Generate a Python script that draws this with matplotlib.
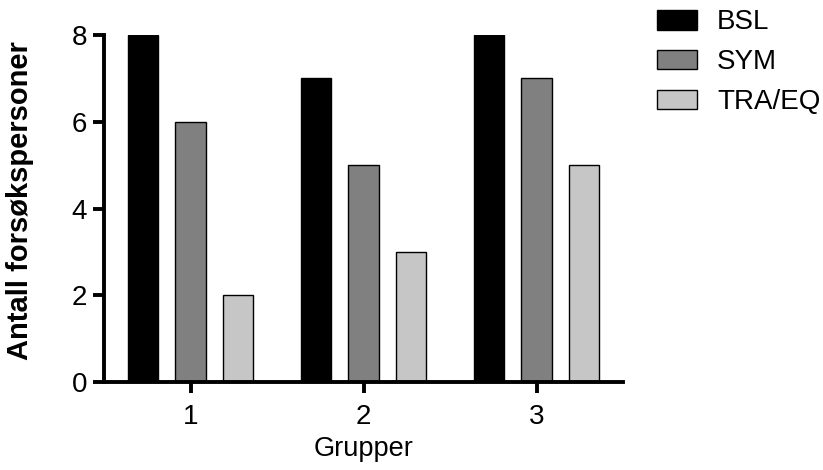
import numpy as np
import matplotlib
matplotlib.use('Agg')
import matplotlib.pyplot as plt

plt.rcParams['font.family'] = ['Liberation Sans', 'DejaVu Sans']

groups = [1, 2, 3]
series = ['BSL', 'SYM', 'TRA/EQ']
bsl = [8, 7, 8]
sym = [6, 5, 7]
tra = [2, 3, 5]
colors = ['#000000', '#808080', '#c6c6c6']

fig = plt.figure(figsize=(8.23, 4.70), dpi=100)
ax = fig.add_axes([0.1264, 0.1872, 0.6306, 0.7383])

x = np.array(groups, dtype=float)
offs = [-0.274, 0.0, 0.274]
w = 0.176
for vals, off, c, lab in zip([bsl, sym, tra], offs, colors, series):
    ax.bar(x + off, vals, width=w, color=c, edgecolor='black', linewidth=1.0,
           label=lab, zorder=2)

ax.set_xlim(0.5, 3.5)
ax.set_ylim(0, 8)
ax.set_xticks(groups)
ax.set_yticks([0, 2, 4, 6, 8])
for s in ['top', 'right']:
    ax.spines[s].set_visible(False)
for s in ['left', 'bottom']:
    ax.spines[s].set_linewidth(2.8)
ax.spines['left'].set_capstyle('projecting')
ax.tick_params(axis='both', width=2.8, length=8, labelsize=20)
ax.tick_params(axis='y', pad=4)
ax.tick_params(axis='x', pad=7.5)

ax.set_xlabel('Grupper', fontsize=19.5, labelpad=5)
ax.set_ylabel('Antall forsøkspersoner', fontsize=21, fontweight='bold')
ax.yaxis.set_label_coords(-0.135, 0.524)

ax.legend(loc='upper left', bbox_to_anchor=(1.044, 1.106), frameon=False,
          fontsize=20, handlelength=1.44, handleheight=0.72, handletextpad=0.72,
          labelspacing=0.5, borderaxespad=0)

fig.savefig('out.png', dpi=100)
